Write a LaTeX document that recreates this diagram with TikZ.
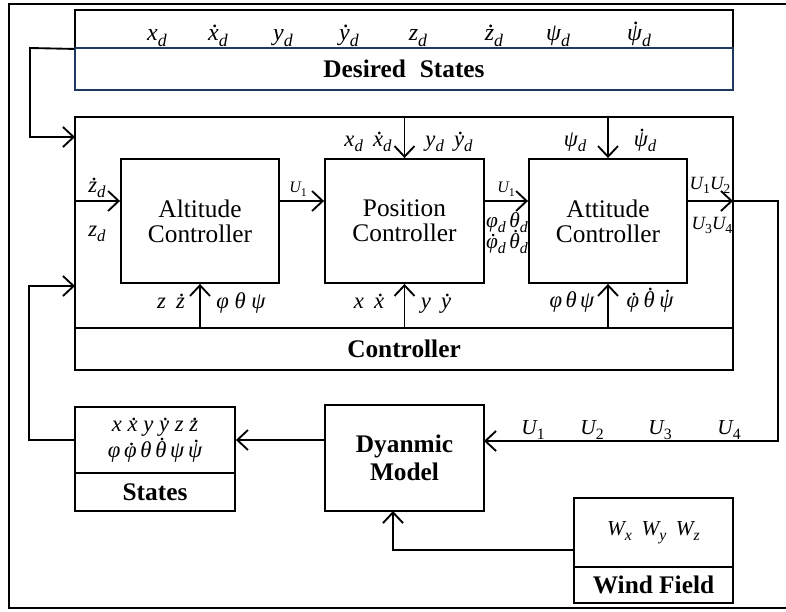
\documentclass[tikz,border=0pt]{standalone}
\usepackage{fontspec}
\setmainfont{Liberation Serif}
\usetikzlibrary{arrows.meta}
\definecolor{navy}{RGB}{31,56,96}
% dotted letter (time derivative) in text italics
\newcommand\dt[1]{{\setbox0=\hbox{#1}\rlap{\hbox to\wd0{\hss\kern0.16em\raisebox{\dimexpr\ht0+0.05em\relax}{.}\hss}}\box0}}
\makeatletter
\newcommand\sd[1]{\raisebox{-0.26em}{\fontsize{\fpeval{0.74*\f@size}}{0}\selectfont #1}}
\makeatother
\newcommand\Uu[1]{U\sd{\upshape #1}}
\tikzset{
  box/.style={draw, line width=1.4pt, inner sep=0pt, anchor=center},
  arr/.style={line width=1.4pt, -{Straight Barb[length=8pt,width=15pt]}},
  ln/.style={line width=1.4pt},
  lab/.style={inner sep=0pt, anchor=base, font=\fontsize{17}{19}\selectfont\itshape},
  biglab/.style={lab, font=\fontsize{18}{20}\selectfont\itshape},
  slab/.style={lab, font=\fontsize{12}{14}\selectfont\itshape},
  mlab/.style={lab, font=\fontsize{14}{16}\selectfont\itshape},
  ulab/.style={lab, font=\fontsize{16}{18}\selectfont\itshape},
  bld/.style={font=\fontsize{19}{21}\selectfont\bfseries, align=center},
  ctl/.style={font=\fontsize{19}{19}\selectfont, align=center},
}
\begin{document}
\begin{tikzpicture}[x=0.75pt,y=-0.75pt]
\useasboundingbox (0,0) rectangle (786,611);
% outer frame
\draw[ln] (786,4) -- (9,4) -- (9,608) -- (786,608);

% boxes
\node[box, minimum width=493.5pt, minimum height=28.5pt] (destop) at (404,29) {};
\node[box, draw=navy, minimum width=493.5pt, minimum height=31.5pt, bld] (desbot) at (404,69) {Desired\hspace{0.3em} States};
\node[box, minimum width=493.5pt, minimum height=158.25pt] (ctrl) at (404,222.5) {};
\node[box, minimum width=493.5pt, minimum height=31.5pt, bld] (ctrlb) at (404,349) {Controller};
\node[box, minimum width=118.5pt, minimum height=93pt, ctl] (alt) at (200,221) {Altitude\\Controller};
\node[box, minimum width=119.25pt, minimum height=93pt, ctl] (pos) at (404.5,221) {Position\\Controller};
\node[box, minimum width=118.5pt, minimum height=93pt, ctl] (att) at (608,221) {Attitude\\Controller};
\node[box, minimum width=120pt, minimum height=49.5pt, align=center, font=\fontsize{17}{19}\selectfont\itshape] (sttop) at (155,440)
  {x \dt{x} y \dt{y} z \dt{z}\\φ\,\dt{φ}\,θ\,\dt{θ}\,ψ\,\dt{ψ}};
\node[box, minimum width=120pt, minimum height=28.5pt, bld] (stbot) at (155,492) {States};
\node[box, minimum width=119.25pt, minimum height=79.5pt, bld] (dyn) at (404.5,458) {Dyanmic\\Model};
\node[box, minimum width=119.25pt, minimum height=51.75pt, font=\fontsize{16}{18}\selectfont\itshape] (wtop) at (653.5,532.5)
  {W\sd{x}\hspace{0.45em}W\sd{y}\hspace{0.45em}W\sd{z}};
\node[box, minimum width=119.25pt, minimum height=27pt, bld] (wbot) at (653.5,585) {Wind Field};

% coordinates for connector ends
\coordinate (in1) at (75,137);
\coordinate (in2) at (75,286);
\coordinate (in3) at (75,201);
\coordinate (out1) at (733,201);
\coordinate (dynin) at (484,441);
\coordinate (wout) at (574,550);
\coordinate (dynbot) at (393,511);

% connectors
\draw[arr] (destop.south west) -- (30,48) |- (in1);
\draw[arr] (sttop.west) -- (29,440) |- (in2);
\draw[arr] (in3) -- (alt.west |- in3);
\draw[arr] (alt.east |- in3) -- (pos.west |- in3);
\draw[arr] (pos.east |- in3) -- (att.west |- in3);
\draw[arr] (att.east |- in3) -- (out1);
\draw[arr] (out1) -- (778,201) |- (dynin);
\draw[arr] (pos.north |- ctrl.north) -- (pos.north);
\draw[arr] (att.north |- ctrl.north) -- (att.north);
\draw[arr] (alt.south |- ctrlb.north) -- (alt.south);
\draw[arr] (pos.south |- ctrlb.north) -- (pos.south);
\draw[arr] (att.south |- ctrlb.north) -- (att.south);
\draw[arr] (dyn.west |- sttop.east) -- (sttop.east);
\draw[arr] (wout) -| (dynbot);

% desired state labels
\node[biglab] (d1) at (157,40) {x\sd{d}};
\node[biglab] (d2) at (218,40) {\dt{x}\sd{d}};
\node[biglab] (d3) at (283,40) {y\sd{d}};
\node[biglab] (d4) at (349,40) {\dt{y}\sd{d}};
\node[biglab] (d5) at (418,40) {z\sd{d}};
\node[biglab] (d6) at (494,40) {\dt{z}\sd{d}};
\node[biglab] (d7) at (558,40) {ψ\sd{d}};
\node[biglab] (d8) at (639,40) {\dt{ψ}\sd{d}};

% controller top inputs
\node[lab] (t1) at (368,146) {x\sd{d}\hspace{0.45em}\dt{x}\sd{d}};
\node[lab] (t2) at (449,146) {y\sd{d}\hspace{0.45em}\dt{y}\sd{d}};
\node[lab] (t3) at (575,146) {ψ\sd{d}};
\node[lab] (t4) at (645,146) {\dt{ψ}\sd{d}};

% altitude inputs
\node[lab] (a1) at (97,192) {\dt{z}\sd{d}};
\node[lab] (a2) at (97,236) {z\sd{d}};

% inter-controller labels
\node[slab] (u1a) at (298,192) {\Uu{1}};
\node[slab] (u1b) at (506,192) {\Uu{1}};
\node[lab, font=\fontsize{16}{18}\selectfont\itshape] (pt1) at (507,227) {φ\sd{d}\,θ\sd{d}};
\node[lab, font=\fontsize{16}{18}\selectfont\itshape] (pt2) at (507,248) {\dt{φ}\sd{d}\,\dt{θ}\sd{d}};
\node[mlab] (u12) at (710,189) {\Uu{1}\Uu{2}};
\node[mlab] (u34) at (712,229) {\Uu{3}\Uu{4}};

% controller bottom inputs
\node[lab] (b1) at (171,308) {z\hspace{0.45em}\dt{z}};
\node[lab] (b2) at (241,308) {φ\hspace{0.25em}θ\hspace{0.25em}ψ};
\node[lab] (b3) at (369,308) {x\hspace{0.45em}\dt{x}};
\node[lab] (b4) at (436,308) {y\hspace{0.45em}\dt{y}};
\node[lab] (b5) at (572,307) {φ\hspace{0.15em}θ\hspace{0.15em}ψ};
\node[lab] (b6) at (650,307) {\dt{φ}\hspace{0.2em}\dt{θ}\hspace{0.2em}\dt{ψ}};

% U labels on the model input
\node[ulab] (m1) at (533,434) {\Uu{1}};
\node[ulab] (m2) at (592,434) {\Uu{2}};
\node[ulab] (m3) at (660,434) {\Uu{3}};
\node[ulab] (m4) at (729,434) {\Uu{4}};
\end{tikzpicture}
\end{document}
